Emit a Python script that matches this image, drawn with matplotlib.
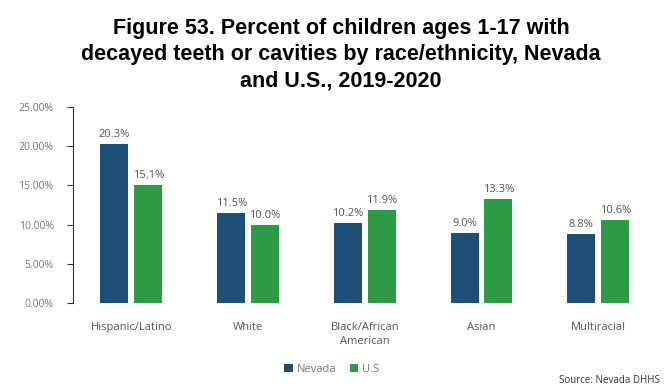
import matplotlib
matplotlib.use("Agg")
import matplotlib.pyplot as plt
import numpy as np

categories = ["Hispanic/Latino", "White", "Black/African\nAmerican", "Asian", "Multiracial"]
nevada = [20.3, 11.5, 10.2, 9.0, 8.8]
us = [15.1, 10.0, 11.9, 13.3, 10.6]
yticks = [0, 5, 10, 15, 20, 25]

fig = plt.figure(figsize=(6.7, 3.91), dpi=100)
ax = fig.add_axes([0.109, 0.225, 0.871, 0.501])

x = np.arange(len(categories))
w = 0.24
gap = 0.025
c_nv = "#1f4e79"
c_us = "#2f9a46"
b1 = ax.bar(x - w/2 - gap, nevada, w, color=c_nv, label="Nevada")
b2 = ax.bar(x + w/2 + gap, us, w, color=c_us, label="U.S")

for bars, vals in ((b1, nevada), (b2, us)):
    for r, v in zip(bars, vals):
        ax.text(r.get_x() + r.get_width()/2, v + 0.5, f"{v:.1f}%", ha="center", va="bottom",
                fontsize=8, color="#555555", family="Open Sans")

ax.set_xlim(-0.5, len(categories) - 0.5)
ax.set_ylim(0, 25)
ax.set_yticks(yticks)
ax.set_yticklabels([f"{t:.2f}%" for t in yticks], family="Open Sans", fontsize=7.5, color="#777777")
ax.set_xticks(x)
ax.set_xticklabels(categories, family="Open Sans", fontsize=8, color="#555555", linespacing=1.3)
ax.tick_params(axis="x", length=0, pad=14)
ax.tick_params(axis="y", length=4, color="#333333", pad=10)
for s in ("top", "right", "bottom"):
    ax.spines[s].set_visible(False)
ax.spines["left"].set_color("#333333")

fig.text(0.509, 0.955, "Figure 53. Percent of children ages 1-17 with\ndecayed teeth or cavities by race/ethnicity, Nevada\nand U.S., 2019-2020",
         ha="center", va="top", fontsize=15.5, fontweight="bold", family="Liberation Sans", linespacing=1.35)

leg = fig.legend(handles=[b1, b2], labels=["Nevada", "U.S"], loc="center", bbox_to_anchor=(0.495, 0.055),
                 ncol=2, frameon=False, handlelength=0.8, handleheight=0.8,
                 handletextpad=0.3, columnspacing=1.2, prop={"family": "Open Sans", "size": 8})
for t in leg.get_texts():
    t.set_color("#777777")

fig.text(0.985, 0.028, "Source: Nevada DHHS", ha="right", va="center", fontsize=7, family="Open Sans", color="#333333")

fig.savefig("out.png", dpi=100)
